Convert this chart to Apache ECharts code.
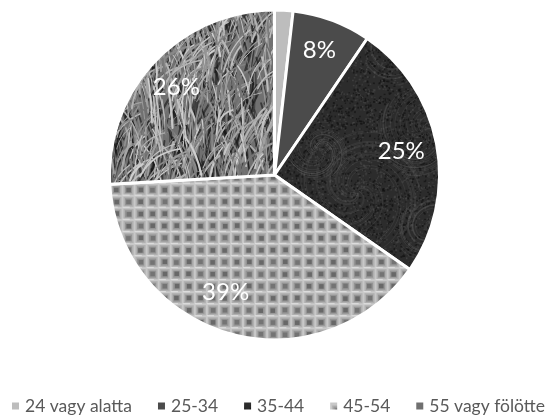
<!DOCTYPE html>
<html>
<head>
<meta charset="utf-8">
<style>html,body{margin:0;padding:0;background:#fff}#c{width:549px;height:416px}</style>
<script src="https://cdn.jsdelivr.net/npm/echarts@6/dist/echarts.min.js"></script>
</head>
<body>
<div id="c"></div>
<script>
const categories = ['24 vagy alatta', '25-34', '35-44', '45-54', '55 vagy fölötte'];
const values = [1.8, 7.7, 25.2, 39.4, 25.9];
const labelTexts = ['', '8%', '25%', '39%', '26%'];

const W = 549, H = 416;
function lcg(seed){let s=seed;return ()=>{s=(s*1664525+1013904223)>>>0;return s/4294967296;};}
function mk(){const c=document.createElement('canvas');c.width=W;c.height=H;return c;}

function swirlTexture(){
  const c=mk(),g=c.getContext('2d'),r=lcg(7);
  g.fillStyle='#2c2c2c';g.fillRect(0,0,W,H);
  for(let i=0;i<26000;i++){
    const v=r();g.fillStyle=v<.55?'rgba(18,18,18,.7)':'rgba(78,78,78,.5)';
    g.fillRect(r()*W,r()*H,1+r()*1.2,1+r()*1.2);
  }
  const centres=[[357,191,62],[424,132,45],[300,72,40],[398,52,32],[430,232,32],[318,150,28]];
  centres.forEach(([cx,cy,R])=>{
    for(let k=0;k<18;k++){
      const a0=r()*6.28;
      g.beginPath();
      for(let t=0;t<1;t+=.02){
        const rad=2+t*R,a=a0+t*5;
        g.lineTo(cx+rad*Math.cos(a),cy+rad*Math.sin(a));
      }
      g.strokeStyle='rgba(105,105,105,.3)';g.lineWidth=.7;g.stroke();
    }
  });
  return c;
}
function waffleTexture(){
  const c=mk(),g=c.getContext('2d'),r=lcg(41);
  const p=12.05;
  g.fillStyle='#c8c8c8';g.fillRect(0,0,W,H);
  for(let y=3;y<H;y+=p){for(let x=2;x<W;x+=p){
    g.fillStyle='#b0b0b0';g.fillRect(x+1,y+1,p-2,p-2);
    g.fillStyle='#949494';g.fillRect(x+2.5,y+2.5,p-5,p-5);
    g.fillStyle=r()<.5?'#686868':'#747474';g.fillRect(x+3.4+r()*.8,y+3.4+r()*.8,p-7.5,p-7.5);
    g.fillStyle='#dcdcdc';g.fillRect(x,y+p-1.2,p*.6,1.2);
  }}
  return c;
}
function grassTexture(){
  const c=mk(),g=c.getContext('2d'),r=lcg(23);
  g.fillStyle='#707070';g.fillRect(0,0,W,H);
  g.lineCap='round';
  for(let i=0;i<520;i++){
    const x=105+r()*175,y=5+r()*195,v=r();
    g.strokeStyle='rgba(20,20,20,.6)';g.lineWidth=.8+v*1.8;
    const l=10+r()*28,t=(r()-.5)*1.1;
    g.beginPath();g.moveTo(x,y);g.lineTo(x+Math.sin(t)*l,y-Math.cos(t)*l);g.stroke();
  }
  for(let i=0;i<700;i++){
    const x=105+r()*175,y=5+r()*195,v=r();
    const s=Math.round(110+v*100);
    g.strokeStyle='rgb('+s+','+s+','+s+')';g.lineWidth=.6+r()*1.6;
    const l=14+r()*36,t=(r()-.35)*1.0;
    g.beginPath();g.moveTo(x,y);
    g.quadraticCurveTo(x+Math.sin(t)*l*.4,y-Math.cos(t)*l*.6,x+Math.sin(t*1.5)*l,y-Math.cos(t*1.5)*l);
    g.stroke();
  }
  return c;
}
const fills = [
  '#bdbdbd',
  '#4b4b4b',
  {image: swirlTexture(), repeat:'repeat'},
  {image: waffleTexture(), repeat:'repeat'},
  {image: grassTexture(), repeat:'repeat'}
];

const chart = echarts.init(document.getElementById('c'), null, {renderer:'canvas'});
const total = values.reduce((a,b)=>a+b,0);
const radius = 165;
const labelNudgeX = [0,-2,-6,-12,0];
const labelNudgeY = [0,2,1,-13,5];
function midAngle(i){
  let s=0;for(let k=0;k<i;k++)s+=values[k];
  return (s+values[i]/2)/total*2*Math.PI;
}
chart.setOption({
  backgroundColor:'#ffffff',
  animation:false,
  legend:{
    left:10,
    top:397,
    width:700,
    padding:0,
    itemWidth:9,
    itemHeight:9,
    itemGap:24,
    icon:'rect',
    textStyle:{fontFamily:'Lato',fontSize:17.5,color:'#595959'},
    data:categories.map((n,i)=>i===0?{name:n,textStyle:{padding:[0,5,0,0]}}:{name:n})
  },
  series:[{
    type:'pie',
    center:[274.5,175],
    radius:[0,radius],
    startAngle:90,
    clockwise:true,
    avoidLabelOverlap:false,
    itemStyle:{borderColor:'#ffffff',borderWidth:3},
    label:{
      show:true,
      position:'inside',
      fontFamily:'Lato',
      fontSize:24,
      color:'#ffffff',
      formatter:p=>labelTexts[p.dataIndex]
    },
    labelLine:{show:false},
    labelLayout:p=>{
      const i=p.dataIndex,a=midAngle(i),extra=radius*0.3;
      return {dx:Math.sin(a)*extra+labelNudgeX[i],dy:-Math.cos(a)*extra+labelNudgeY[i]};
    },
    data:categories.map((n,i)=>({name:n,value:values[i],itemStyle:{color:fills[i]}}))
  }]
});
</script>
</body>
</html>
